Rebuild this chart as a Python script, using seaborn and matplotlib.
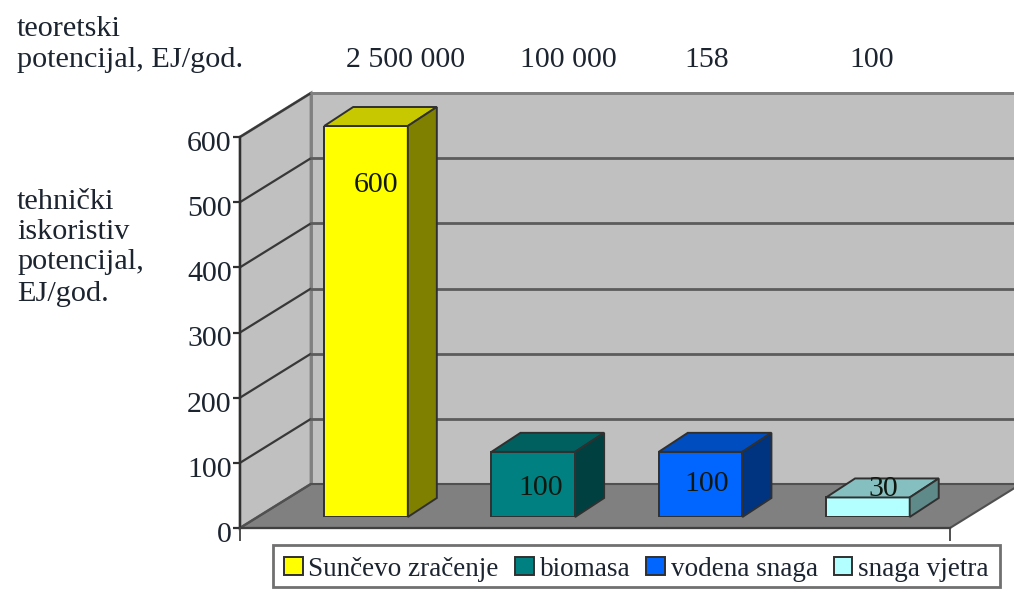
#!/usr/bin/env python3
"""Tehnicki iskoristiv potencijal obnovljivih izvora - pseudo 3D bar chart."""

import matplotlib

matplotlib.use("Agg")
import matplotlib.pyplot as plt
import matplotlib.transforms as mtrans
import seaborn as sns
from matplotlib.patches import Polygon, Rectangle

sources = ["Sunčevo zračenje", "biomasa", "vodena snaga", "snaga vjetra"]
technical = [600, 100, 100, 30]
theoretical = ["2 500 000", "100 000", "158", "100"]
y_ticks = [0, 100, 200, 300, 400, 500, 600]

front_colors = ["#FFFF00", "#008080", "#0066FF", "#B3FFFF"]
top_colors = ["#C8C800", "#006060", "#004DC0", "#86BFBF"]
side_colors = ["#808000", "#004040", "#003380", "#5F8A8A"]

# value label offsets from bar top centre, in pixels
label_offsets = [(10, -59), (7, -36), (6, -32), (15, 8)]

W, H = 1014, 594
LEFT, RIGHT, BOTTOM, TOP = 240, 950, 528, 137
WALL_DX, WALL_DY = 71, -44
BAR_LIFT = 11
BAR_DX, BAR_DY = 29, -19
FONT = "Liberation Serif"
EDGE = "#303030"

sns.set_theme(style="white")
plt.rcParams["font.family"] = [FONT, "DejaVu Serif"]

fig = plt.figure(figsize=(W / 100, H / 100), dpi=100)


def axes_rect(left, right, bottom, top):
    return [left / W, 1 - bottom / H, (right - left) / W, (bottom - top) / H]


# walls and floor, in pixel coordinates
bg = fig.add_axes([0, 0, 1, 1], zorder=0)
bg.set_xlim(0, W)
bg.set_ylim(H, 0)
bg.axis("off")

back_y = BOTTOM + WALL_DY
back_x = LEFT + WALL_DX
top_y = TOP + WALL_DY
bg.add_patch(Polygon([(back_x, top_y), (W + 5, top_y), (W + 5, back_y), (back_x, back_y)],
                     fc="#C0C0C0", ec="#808080", lw=2))
bg.add_patch(Polygon([(LEFT, TOP), (back_x, top_y), (back_x, back_y), (LEFT, BOTTOM)],
                     fc="#C0C0C0", ec="#808080", lw=2))
bg.add_patch(Polygon([(LEFT, BOTTOM), (RIGHT, BOTTOM), (RIGHT + WALL_DX, back_y), (back_x, back_y)],
                     fc="#808080", ec="#505050", lw=1.5))

px_per_unit = (BOTTOM - TOP) / max(y_ticks)
for v in y_ticks[1:]:
    y = BOTTOM - v * px_per_unit
    bg.plot([LEFT, back_x], [y, y + WALL_DY], color="#383838", lw=1.6, solid_capstyle="butt")
    if v < max(y_ticks):
        bg.plot([back_x, W + 5], [y + WALL_DY] * 2, color="#5c5c5c", lw=2)
    else:
        bg.plot([back_x, W + 5], [y + WALL_DY] * 2, color="#808080", lw=2)
bg.plot([LEFT, back_x], [BOTTOM, back_y], color="#505050", lw=1.5)

# legend frame
bg.add_patch(Rectangle((273, 545), 727, 42, fc="white", ec="#707070", lw=2))

# front plane with the value axis
ax = fig.add_axes(axes_rect(LEFT, RIGHT, BOTTOM, TOP), zorder=1)
ax.patch.set_alpha(0)
ax.set_xlim(0, 1)
ax.set_ylim(0, max(y_ticks))
ax.set_yticks(y_ticks)
ax.set_xticks([0, 1])
ax.set_xticklabels([])
ax.tick_params(axis="y", length=5, width=1.6, color="#303030", labelsize=21.5,
               pad=1, labelcolor="#1c2430", left=True)
ax.tick_params(axis="x", length=9, width=1.4, color="#505050", bottom=True)
for side in ["top", "right"]:
    ax.spines[side].set_visible(False)
ax.spines["left"].set_color("#303030")
ax.spines["left"].set_linewidth(1.6)
ax.spines["bottom"].set_color("#404040")
ax.spines["bottom"].set_linewidth(1.6)

# tick labels sit a few pixels under their ticks in the original
label_shift = mtrans.ScaledTranslation(0, -4 / 100, fig.dpi_scale_trans)
for tick_label in ax.get_yticklabels():
    tick_label.set_transform(tick_label.get_transform() + label_shift)

# bars sit a little behind the front plane
ax_bars = fig.add_axes(axes_rect(LEFT, RIGHT, BOTTOM - BAR_LIFT, TOP - BAR_LIFT), zorder=2)
ax_bars.patch.set_alpha(0)
sns.barplot(x=sources, y=technical, hue=sources, palette=front_colors, width=0.5,
            edgecolor=EDGE, linewidth=1.4, saturation=1, legend=False, ax=ax_bars)
step = 167.3
first_centre = 366
ax_bars.set_xlim((LEFT - first_centre) / step, (RIGHT - first_centre) / step)
ax_bars.set_ylim(0, max(y_ticks))
ax_bars.axis("off")

dx = BAR_DX / step
dy = -BAR_DY / px_per_unit
for i, container in enumerate(ax_bars.containers):
    bar = container[0]
    x0, x1 = bar.get_x(), bar.get_x() + bar.get_width()
    v = bar.get_height()
    ax_bars.add_patch(Polygon([(x0, v), (x1, v), (x1 + dx, v + dy), (x0 + dx, v + dy)],
                              fc=top_colors[i], ec=EDGE, lw=1.4, clip_on=False))
    ax_bars.add_patch(Polygon([(x1, 0), (x1 + dx, dy), (x1 + dx, v + dy), (x1, v)],
                              fc=side_colors[i], ec=EDGE, lw=1.4, clip_on=False))
    off = label_offsets[i]
    ax_bars.annotate(str(technical[i]), (x0 + (x1 - x0) / 2, v),
                     xytext=(off[0] * 0.72, off[1] * 0.72), textcoords="offset points",
                     ha="center", va="center", fontsize=21.5, color="#101810",
                     annotation_clip=False)

# text around the plot
text_kw = dict(fontsize=21.8, color="#1c2430", transform=bg.transData, va="center")
bg.text(17, 29, "teoretski", **text_kw)
bg.text(17, 60, "potencijal, EJ/god.", **text_kw)
for line, y in zip(["tehnički", "iskoristiv", "potencijal,", "EJ/god."], [202, 232, 262, 294]):
    bg.text(17, y, line, **text_kw)
for label, x in zip(theoretical, [406, 568, 707, 872]):
    bg.text(x, 60, label, ha="center", **{**text_kw, "fontsize": 21.5})

# legend entries, the frame is drawn with the background
handles = [Rectangle((0, 0), 1, 1, fc=c, ec=EDGE, lw=1.4) for c in front_colors]
leg = fig.legend(handles, sources, ncol=4, loc="lower left",
                 bbox_to_anchor=(276 / W, 1 - 590 / H, 721 / W, 39 / H), mode="expand",
                 frameon=False, fontsize=19.5, labelcolor="#1c2430",
                 handlelength=0.68, handleheight=0.65, handletextpad=0.22,
                 columnspacing=0.3, borderaxespad=0, borderpad=0.3)

fig.savefig("out.png", dpi=100)
